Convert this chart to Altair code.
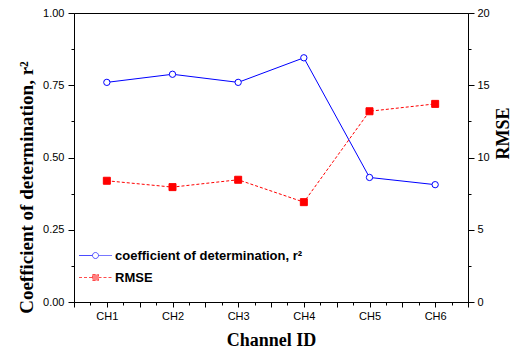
import altair as alt
import pandas as pd

channels = ["CH1", "CH2", "CH3", "CH4", "CH5", "CH6"]
channel_pos = [1, 2, 3, 4, 5, 6]
r2_values = [0.760, 0.788, 0.760, 0.845, 0.431, 0.406]
rmse_values = [8.39, 7.95, 8.46, 6.91, 13.20, 13.71]
series_names = ["coefficient of determination, r²", "RMSE"]
series_colors = ["#0000ff", "#ff0000"]
series_fills = ["white", "#ff0000"]

x_tick_values = [0.5, 0.75, 1, 1.25, 1.5, 1.75, 2, 2.25, 2.5, 2.75, 3, 3.25, 3.5,
                 3.75, 4, 4.25, 4.5, 4.75, 5, 5.25, 5.5, 5.75, 6, 6.25, 6.5]
left_tick_values = [0, 0.125, 0.25, 0.375, 0.5, 0.625, 0.75, 0.875, 1.0]
right_tick_values = [0, 2.5, 5, 7.5, 10, 12.5, 15, 17.5, 20]

df = pd.DataFrame({"channel": channels, "pos": channel_pos,
                   "r2": r2_values, "rmse": rmse_values})
legend_df = pd.DataFrame({"series": series_names})

x_axis = alt.Axis(
    values=x_tick_values,
    labelExpr="datum.value % 1 == 0 ? 'CH' + datum.value : ''",
    tickSize={"condition": {"test": "datum.value * 2 % 1 == 0", "value": 5}, "value": 3},
    labelFlush=False, labelOverlap=False, labelPadding=3,
    title="Channel ID", titleX=197, titleY=38, titleBaseline="middle",
)
x_enc = alt.X("pos:Q", scale=alt.Scale(domain=[0.5, 6.5], nice=False, zero=False), axis=x_axis)

left_axis = alt.Axis(
    values=left_tick_values,
    labelExpr="datum.value * 4 % 1 == 0 ? format(datum.value, '.2f') : ''",
    tickSize={"condition": {"test": "datum.value * 4 % 1 == 0", "value": 6}, "value": 3},
    labelFlush=False, labelOverlap=False, labelPadding=4,
    title="Coefficient of determination, r²", titleX=-48, titleY=174, titleFontSize=19,
    titleBaseline="middle", titleAngle=270,
)
right_axis = alt.Axis(
    orient="right",
    values=right_tick_values,
    labelExpr="datum.value % 5 == 0 ? format(datum.value, 'd') : ''",
    tickSize={"condition": {"test": "datum.value % 5 == 0", "value": 6}, "value": 3},
    labelFlush=False, labelOverlap=False, labelPadding=3,
    title="RMSE", titleX=35, titleY=120, titleBaseline="middle", titleAngle=270,
)

y_left = alt.Y("r2:Q", scale=alt.Scale(domain=[0, 1], nice=False), axis=left_axis)
y_right = alt.Y("rmse:Q", scale=alt.Scale(domain=[0, 20], nice=False), axis=right_axis)

base = alt.Chart(df)
r2_line = base.mark_line(color=series_colors[0], strokeWidth=1).encode(x=x_enc, y=y_left)
r2_pts = base.mark_point(shape="circle", size=40, filled=True, fill=series_fills[0],
                         stroke=series_colors[0], strokeWidth=1, opacity=1).encode(x=x_enc, y=y_left)

path_circle = "M-5.5,0H-1M1,0H5.5M-1,0A1,1,0,1,0,1,0A1,1,0,1,0,-1,0"
path_square = "M-5.5,0H-1M1,0H5.5M-1,-1H1V1H-1Z"

leg = alt.Legend(orient="none", legendX=15, legendY=236, title=None,
                 labelFont="Liberation Sans", labelFontSize=13, labelFontWeight="bold",
                 labelColor="black", labelLimit=400, symbolSize=36, symbolStrokeWidth=1,
                 labelOffset=13, rowPadding=8, padding=0)

legend_layer = alt.Chart(legend_df).transform_filter("false").mark_point(
    filled=True, size=36, strokeWidth=1
).encode(
    x=alt.value(0), y=alt.value(0),
    shape=alt.Shape("series:N", scale=alt.Scale(domain=series_names, range=[path_circle, path_square]), legend=leg),
    stroke=alt.Stroke("series:N", scale=alt.Scale(domain=series_names, range=series_colors), legend=leg),
    fill=alt.Fill("series:N", scale=alt.Scale(domain=series_names, range=series_fills), legend=leg),
    strokeDash=alt.StrokeDash("series:N", scale=alt.Scale(domain=series_names, range=[[1, 0], [3, 2]]), legend=leg),
)

rmse_line = base.mark_line(color=series_colors[1], strokeWidth=1, strokeDash=[3, 2]).encode(x=x_enc, y=y_right)
rmse_pts = base.mark_point(shape="square", size=49, filled=True, fill=series_colors[1],
                           stroke=series_colors[1], strokeWidth=1, opacity=1).encode(x=x_enc, y=y_right)

left = alt.layer(r2_line, r2_pts, legend_layer)
right = alt.layer(rmse_line, rmse_pts)

chart = alt.layer(left, right).resolve_scale(y="independent").properties(
    width=394, height=289,
    autosize=alt.AutoSizeParams(type="none"),
    padding={"left": 66, "top": 5, "right": 45, "bottom": 50},
).configure_view(stroke="black", strokeWidth=1).configure_axis(
    labelFont="Liberation Sans", labelFontSize=11, labelColor="black",
    titleFont="Liberation Serif", titleFontSize=18, titleFontWeight="bold", titleColor="black",
    domainColor="black", tickColor="black", grid=False, domainWidth=1, tickWidth=1,
)

chart.save("out.html", embed_options={"renderer": "svg", "actions": False})
